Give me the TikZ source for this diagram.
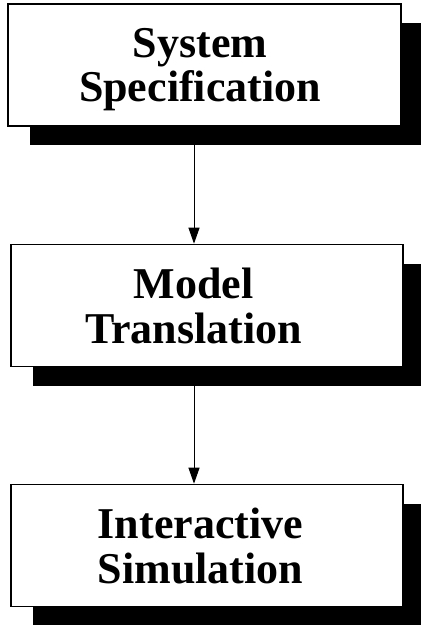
\documentclass[tikz,border=0pt]{standalone}
\usepackage{fontspec}
\setmainfont{Liberation Serif}
\usetikzlibrary{arrows.meta,shadows}
\tikzset{
  stagebox/.style={draw, line width=1.6pt, fill=white, minimum height=122pt,
    inner sep=0pt, align=center, text depth=0pt,
    font=\bfseries\fontsize{44}{44.5}\selectfont,
    drop shadow={shadow xshift=22pt, shadow yshift=-19.5pt, opacity=1, fill=black}},
  flow/.style={line width=1pt, -{Triangle[length=16pt,width=11pt]}}
}
\begin{document}
\begin{tikzpicture}[x=1pt,y=1pt]
\useasboundingbox (0,0) rectangle (421,625);
\begin{scope}
\clip (0,0) rectangle (421,625);
\node[stagebox, minimum width=393pt] (spec) at (204.5,560)
  {System\hspace*{9pt}\\Specification\hspace*{9pt}};
\node[stagebox, minimum width=392pt] (model) at (207,319.5)
  {Model\hspace*{27pt}\\Translation\hspace*{27pt}};
\node[stagebox, minimum width=392pt] (sim) at (207,79.5)
  {Interactive\hspace*{13pt}\\Simulation\hspace*{13pt}};
\end{scope}
\draw[flow] ([xshift=-10.5pt]spec.south) -- ([xshift=-13pt]model.north);
\draw[flow] ([xshift=-13pt]model.south) -- ([xshift=-13pt]sim.north);
\end{tikzpicture}
\end{document}
